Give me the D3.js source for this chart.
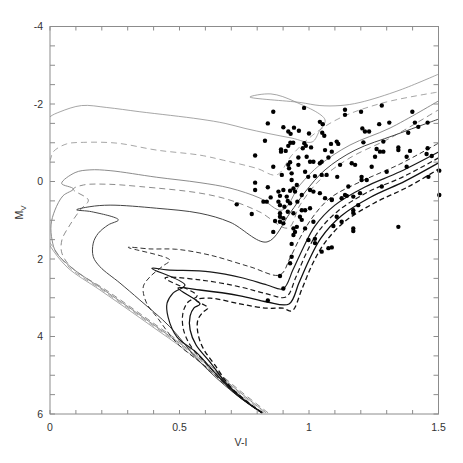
<head>
  <title>Isochrones and CMD</title>
</head>
<body style="margin:0">
  <script src="https://cdn.jsdelivr.net/npm/d3@7"></script>
  <style>
    * { font-family: "Liberation Sans", Arial, sans-serif; }
    .frame { fill: none; stroke: #8c8c8c; stroke-width: 1; }
    .tick { stroke: #8c8c8c; stroke-width: 1; }
    .ticklabel { font-size: 10.5px; fill: #333; }
    .iso { fill: none; }
  </style>
  <script>
    // axis ticks
    var xTicks = [0, 0.5, 1, 1.5];
    var yTicks = [-4, -2, 0, 2, 4, 6];
    var xMinor = d3.range(0, 1.501, 0.1);
    var yMinor = d3.range(-4, 6.001, 0.5);

    // isochrones, [V-I, M_V], youngest first
    var isoA = [[0.819,5.97],[0.707,5.38],[0.579,4.66],[0.502,4.25],[0.413,3.83],[0.320,3.39],[0.193,2.80],[0.066,2.21],[0,1.66],[-0.023,1.38],
      [-0.04,1.0],[-0.04,-1.0],[-0.02,-1.5],[0,-1.67],[0.039,-1.80],[0.122,-1.96],[0.219,-1.91],[0.347,-1.80],[0.579,-1.61],[0.676,-1.50],
      [0.753,-1.37],[0.842,-1.24],[0.934,-1.12],[1.012,-1.02],[1.040,-1.30],[1.062,-1.59],[0.946,-2.06],[0.853,-2.26],[0.772,-2.18],
      [0.965,-2.04],[1.042,-1.96],[1.120,-1.96],[1.197,-2.04],[1.351,-2.36],[1.50,-2.77]];
    var isoB = [[0.827,5.97],[0.715,5.38],[0.587,4.66],[0.510,4.25],[0.421,3.83],[0.328,3.39],[0.201,2.80],[0.074,2.21],[0.008,1.66],[-0.015,1.38],
      [-0.03,0.5],[-0.02,-0.4],[0,-0.55],[0.013,-0.77],[0.064,-0.97],[0.129,-1.01],[0.258,-0.99],[0.412,-0.81],[0.579,-0.68],[0.669,-0.55],
      [0.798,-0.34],[0.875,-0.17],[0.934,-0.68],[1.015,-1.20],[1.120,-1.64],[1.286,-2.03],[1.50,-2.31]];
    var isoC = [[0.834,5.97],[0.722,5.38],[0.594,4.66],[0.517,4.25],[0.428,3.83],[0.335,3.39],[0.208,2.80],[0.081,2.21],[0.023,1.82],[0.008,1.51],
      [0.004,1.12],[0.019,0.74],[0.050,0.37],[0.090,0.19],[0.045,0.05],[0.097,-0.23],[0.154,-0.30],[0.232,-0.28],[0.412,-0.11],[0.579,0.03],
      [0.695,0.17],[0.811,0.43],[0.896,0.74],[0.965,0.09],[1.042,-0.43],[1.158,-0.94],[1.313,-1.38],[1.50,-2.08]];
    var isoD = [[0.842,5.97],[0.730,5.38],[0.602,4.66],[0.525,4.25],[0.436,3.83],[0.343,3.39],[0.216,2.80],[0.085,2.23],[0.046,1.85],[0.046,1.51],
      [0.077,1.12],[0.116,0.74],[0.148,0.48],[0.090,0.20],[0.129,0.09],[0.219,0.07],[0.347,0.13],[0.579,0.30],[0.695,0.48],[0.811,0.79],
      [0.919,1.20],[0.965,0.61],[1.042,-0.04],[1.158,-0.61],[1.313,-1.12],[1.50,-1.85]];
    var isoE = [[0.819,5.97],[0.707,5.44],[0.579,4.66],[0.463,3.75],[0.347,3.06],[0.270,2.62],[0.193,2.20],[0.167,1.94],[0.167,1.59],[0.186,1.34],
      [0.225,1.12],[0.264,0.99],[0.161,0.78],[0.103,0.73],[0.154,0.65],[0.232,0.61],[0.412,0.69],[0.579,0.82],[0.695,1.05],[0.838,1.56],
      [0.927,0.81],[0.985,0.27],[1.062,-0.30],[1.178,-0.81],[1.332,-1.20],[1.50,-1.61]];
    var isoF = [[0.819,5.97],[0.714,5.46],[0.598,4.76],[0.490,4.17],[0.413,3.50],[0.373,3.14],[0.360,2.72],[0.386,2.46],[0.436,2.18],[0.463,2.03],
      [0.302,1.70],[0.386,1.74],[0.489,1.75],[0.618,1.90],[0.772,2.20],[0.888,2.41],[0.927,1.97],[0.965,1.46],[1.012,0.94],[1.081,0.43],
      [1.197,0.01],[1.351,-0.45],[1.50,-0.99]];
    var isoG = [[0.819,5.97],[0.722,5.51],[0.637,4.94],[0.568,4.43],[0.490,4.01],[0.456,3.50],[0.452,3.14],[0.475,2.88],[0.521,2.67],[0.393,2.24],
      [0.452,2.28],[0.618,2.33],[0.745,2.49],[0.838,2.67],[0.900,2.77],[0.938,2.28],[0.977,1.72],[1.023,1.15],[1.100,0.61],[1.216,0.14],
      [1.351,-0.25],[1.50,-0.76]];
    var isoH = [[0.819,5.97],[0.734,5.56],[0.656,5.07],[0.598,4.66],[0.541,4.22],[0.514,3.78],[0.514,3.37],[0.533,3.11],[0.568,2.95],[0.444,2.49],
      [0.579,2.54],[0.734,2.72],[0.838,2.90],[0.911,2.98],[0.950,2.46],[0.988,1.87],[1.035,1.30],[1.112,0.76],[1.228,0.27],[1.363,-0.12],
      [1.50,-0.61]];
    var isoI = [[0.819,5.97],[0.745,5.61],[0.676,5.17],[0.618,4.66],[0.564,4.22],[0.541,3.83],[0.541,3.47],[0.556,3.26],[0.579,3.16],[0.494,2.75],
      [0.579,2.80],[0.734,2.95],[0.838,3.11],[0.923,3.16],[0.961,2.62],[1.000,2.03],[1.046,1.46],[1.124,0.89],[1.239,0.40],[1.371,-0.01],
      [1.50,-0.48]];
    var isoJ = [[0.819,5.97],[0.757,5.66],[0.695,5.28],[0.637,4.74],[0.591,4.30],[0.571,3.91],[0.571,3.57],[0.591,3.37],[0.610,3.26],[0.564,3.06],
      [0.618,3.01],[0.734,3.16],[0.838,3.27],[0.900,3.27],[0.934,3.34],[0.973,2.77],[1.012,2.15],[1.058,1.61],[1.135,1.05],[1.251,0.56],
      [1.382,0.14],[1.50,-0.32]];

    // observed stars [V-I, M_V]
    var stars = [[0.862,-1.80],[0.981,-1.90],[0.841,-1.50],[0.901,-1.40],[0.942,-1.39],[0.920,-1.29],[0.929,-1.23],[0.961,-1.31],[1.000,-1.24],
      [1.042,-1.54],[1.053,-1.48],[1.051,-1.26],[1.059,-1.18],[0.830,-1.05],[0.928,-1.00],[0.939,-1.00],[0.982,-0.99],[0.988,-0.92],[0.976,-0.86],
      [1.008,-0.88],[0.892,-0.83],[0.892,-0.77],[0.910,-0.79],[0.920,-0.92],[1.062,-0.81],[1.085,-0.97],[0.792,-0.67],[0.959,-0.62],[0.991,-0.64],
      [0.927,-0.50],[1.017,-0.51],[1.049,-0.51],[1.075,-0.62],
      [1.139,-1.85],[1.139,-1.72],[1.201,-1.80],[1.281,-1.96],[1.399,-1.80],[1.271,-1.48],[1.310,-1.52],[1.409,-1.52],[1.422,-1.41],[1.458,-1.52],
      [1.206,-1.37],[1.216,-1.29],[1.232,-1.29],[1.383,-1.26],[1.107,-1.03],[1.113,-0.97],[1.210,-1.01],[1.287,-1.03],[1.261,-0.84],[1.274,-0.77],
      [1.287,-0.77],[1.345,-0.88],[1.345,-0.81],[1.390,-0.79],[1.458,-0.86],[1.255,-0.64],[1.377,-0.64],[1.088,-0.77],[1.165,-0.47],[1.454,-0.71],
      [1.474,-0.66],
      [0.862,-0.38],[0.920,-0.43],[0.923,-0.34],[0.959,-0.43],[1.004,-0.51],[1.042,-0.47],[0.933,-0.21],[0.895,-0.17],[0.985,-0.25],[0.997,-0.12],
      [1.023,-0.14],[1.049,-0.17],[1.068,-0.17],[0.792,0.03],[0.933,-0.04],[0.953,0.09],[0.940,0.18],[0.841,0.15],[0.882,0.26],[0.901,0.22],
      [0.927,0.24],[0.946,0.26],[0.792,0.22],[1.004,0.22],[1.017,0.26],[1.042,0.30],[1.062,0.43],[1.088,0.46],[0.888,0.37],[0.914,0.39],
      [0.972,0.35],[0.852,0.41],[0.837,0.52],[0.824,0.52],[0.882,0.52],[0.918,0.50],[0.927,0.56],[0.955,0.52],[0.905,0.65],[0.888,0.61],
      [0.721,0.59],[0.779,0.84],[0.888,0.82],[0.918,0.78],[0.940,0.82],[0.972,0.74],[0.985,0.74],[1.004,0.69],[0.901,0.95],[0.888,1.04],
      [0.869,1.02],[0.965,0.91],[0.972,0.99],[1.017,1.04],[0.940,1.21],[0.946,1.30],[0.862,1.30],[0.985,1.21],[0.940,1.38],[0.998,1.51],
      [1.023,1.48],[0.933,1.61],[1.023,1.59],[1.075,1.72],[1.049,1.81],
      [1.120,-0.43],[1.178,-0.43],[1.242,-0.38],[1.109,-0.12],[1.203,-0.12],[1.203,-0.04],[1.223,-0.04],[1.300,-0.25],[1.377,-0.38],[1.461,-0.12],
      [1.503,-0.28],[1.503,0.35],[1.281,0.13],[1.152,0.13],[1.139,0.35],[1.146,0.37],[1.171,0.39],[1.126,0.43],[1.197,0.30],[1.088,0.48],
      [1.190,0.61],[1.171,0.74],[1.171,0.81],[1.107,0.91],[1.126,1.04],[1.094,1.15],[1.171,1.21],[1.171,1.28],[1.345,1.17],[1.088,1.70],
      [0.933,1.94],[0.927,2.11],[0.888,2.44],[0.901,2.76],[0.841,3.07],[0.953,1.17],[0.901,1.08],[0.888,0.91]];

    var margin = {top: 26.5, left: 50, right: 24.5, bottom: 49}
      , width = 463 - margin.left - margin.right
      , height = 463 - margin.top - margin.bottom;

    var svg = d3.select("body").append("svg")
      .attr("width", 463)
      .attr("height", 463)
      .style("display", "block")
      .append("g")
      .attr("transform", "translate(" + margin.left + "," + margin.top + ")");

    var x = d3.scaleLinear().domain([0, 1.5]).range([0, width]);
    var y = d3.scaleLinear().domain([-4, 6]).range([0, height]);

    svg.append("clipPath").attr("id", "plotclip")
      .append("rect").attr("width", width).attr("height", height);

    var line = d3.line()
      .x(d => x(d[0]))
      .y(d => y(d[1]))
      .curve(d3.curveCatmullRom.alpha(0.5));

    var isochrones = [
      {pts: isoA, color: "#8f8f8f", w: 0.8, dash: null},
      {pts: isoB, color: "#8f8f8f", w: 0.8, dash: "6,4"},
      {pts: isoC, color: "#7f7f7f", w: 0.9, dash: null},
      {pts: isoD, color: "#7f7f7f", w: 0.9, dash: "6,4"},
      {pts: isoE, color: "#444", w: 1.0, dash: null},
      {pts: isoF, color: "#333", w: 1.0, dash: "5,3"},
      {pts: isoG, color: "#1a1a1a", w: 1.2, dash: null},
      {pts: isoH, color: "#1a1a1a", w: 1.2, dash: "5,3"},
      {pts: isoI, color: "#111", w: 1.3, dash: null},
      {pts: isoJ, color: "#111", w: 1.3, dash: "5,3"}
    ];

    var lines = svg.append("g").attr("clip-path", "url(#plotclip)");
    isochrones.forEach(function(iso){
      lines.append("path")
        .attr("class", "iso")
        .attr("d", line(iso.pts))
        .attr("stroke", iso.color)
        .attr("stroke-width", iso.w)
        .attr("stroke-dasharray", iso.dash);
    });

    svg.append("g").selectAll("circle")
      .data(stars)
      .enter()
      .append("circle")
      .attr("cx", d => x(d[0]))
      .attr("cy", d => y(d[1]))
      .attr("r", 2.2)
      .style("fill", "#000");

    // frame with inward ticks on all four sides
    svg.append("rect").attr("class", "frame").attr("width", width).attr("height", height);

    var tl = 4;
    xMinor.forEach(function(v){
      svg.append("line").attr("class", "tick")
        .attr("x1", x(v)).attr("x2", x(v)).attr("y1", height).attr("y2", height - tl);
      svg.append("line").attr("class", "tick")
        .attr("x1", x(v)).attr("x2", x(v)).attr("y1", 0).attr("y2", tl);
    });
    yMinor.forEach(function(v){
      svg.append("line").attr("class", "tick")
        .attr("x1", 0).attr("x2", tl + 1).attr("y1", y(v)).attr("y2", y(v));
      svg.append("line").attr("class", "tick")
        .attr("x1", width).attr("x2", width - tl - 1).attr("y1", y(v)).attr("y2", y(v));
    });

    svg.selectAll(".xlab")
      .data(xTicks)
      .enter()
      .append("text")
      .attr("class", "ticklabel")
      .attr("x", d => x(d))
      .attr("y", height + 17)
      .attr("text-anchor", "middle")
      .text(d => d);

    svg.selectAll(".ylab")
      .data(yTicks)
      .enter()
      .append("text")
      .attr("class", "ticklabel")
      .attr("x", -7)
      .attr("y", d => y(d) + 3.5)
      .attr("text-anchor", "end")
      .text(d => d);

    svg.append("text")
      .attr("class", "ticklabel")
      .attr("x", 191)
      .attr("y", height + 32)
      .attr("text-anchor", "middle")
      .text("V-I");

    var ylab = svg.append("text")
      .attr("class", "ticklabel")
      .attr("transform", "translate(-27," + 186 + ") rotate(-90)")
      .attr("text-anchor", "middle");
    ylab.append("tspan").text("M");
    ylab.append("tspan").attr("dy", 3).style("font-size", "8px").text("V");
  </script>
</body>
